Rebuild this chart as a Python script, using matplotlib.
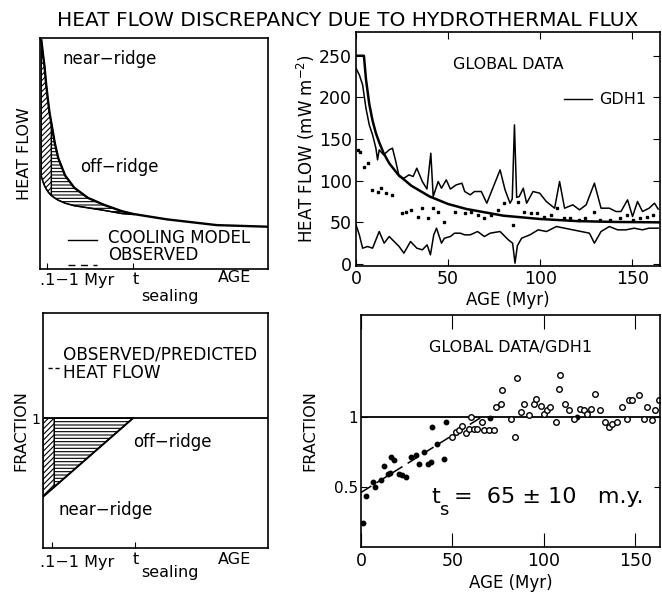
import matplotlib
matplotlib.use("Agg")
import matplotlib.pyplot as plt
import numpy as np

plt.rcParams['font.family'] = ['DejaVu Sans']
plt.rcParams['hatch.linewidth'] = 0.8

W, H = 662, 594

# ---- schematic (top-left): cooling model vs observed, axes fractions
sch_x = [0.006, 0.013, 0.02, 0.027, 0.035, 0.042, 0.05, 0.065, 0.08, 0.11,
         0.15, 0.21, 0.28, 0.36, 0.41]
sch_cool = [0.99, 0.93, 0.875, 0.80, 0.73, 0.675, 0.63, 0.545, 0.48, 0.405,
            0.352, 0.308, 0.278, 0.25, 0.238]
sch_obs = [0.40, 0.378, 0.36, 0.347, 0.335, 0.326, 0.318, 0.307, 0.298, 0.285,
           0.274, 0.265, 0.254, 0.24, 0.236]
tail_x = [0.41, 0.556, 0.775, 1.0]
tail_cool = [0.238, 0.215, 0.19, 0.183]

# ---- schematic (bottom-left): observed / predicted
frac_x = [0.0, 0.05, 0.40]
frac_y = [0.395, 0.47, 1.0]

# ---- global data (top-right)
gdh_age = [0, 4.3, 5.4, 7.2, 9, 10.8, 12.6, 15, 18, 23, 30, 40, 50, 60, 70, 80,
           90, 100, 120, 140, 165]
gdh_hf = [250, 250, 222, 192, 172, 157, 146, 133, 121, 107, 94, 81, 72, 66, 62,
          58, 56, 54, 51.5, 50.5, 50]

up_age = [0, 1.8, 3.6, 5.4, 7.2, 9, 10.8, 11.7, 12.6, 15, 18, 19.8, 21.6, 23.4,
          26, 28.8, 31, 33, 36, 38.5, 40.6, 41.9, 44.6, 46.4, 49, 51.2, 54.4,
          57.5, 59, 62, 64.3, 68, 71, 74.6, 78.2, 80.9, 83.6, 84.8, 86, 87.2,
          88.6, 90.8, 92.6, 96.1, 99.7, 103.3, 107.8, 110.5, 113.2, 117.7,
          121.3, 124.9, 129.4, 133, 137.5, 141.1, 143.8, 147.4, 150.1, 152.8,
          155.5, 159.1, 162, 164]
up_hf = [235, 227, 215, 187, 167, 155, 139, 125, 137, 131, 137, 139, 123, 105,
         103, 107, 105, 115, 99, 90, 133, 81, 99, 91, 101, 90, 95, 97, 87, 83,
         87, 87, 73, 93, 113, 89, 73, 78, 167, 80, 81, 91, 73, 87, 85, 75, 67,
         99, 67, 71, 65, 71, 97, 67, 67, 63, 63, 77, 57, 75, 63, 67, 73, 66]

lo_age = [0, 1.8, 3.6, 6.3, 9, 12.6, 15.3, 18, 20.7, 23.4, 26, 29.6, 33, 36,
          38.6, 40.4, 42.2, 43.7, 46.4, 48, 51.2, 53.5, 56.6, 59, 62, 66,
          69.7, 72.8, 78.2, 82.7, 85, 86.3, 87.6, 89.9, 94.4, 98.9, 103.4,
          108.8, 113.2, 117.7, 122.2, 126.7, 129.4, 133, 137.5, 142, 146.5,
          151, 155.5, 159, 164]
lo_hf = [47, 35, 19, 21, 19, 39, 25, 33, 27, 21, 13, 27, 19, 17, 23, 11, 35, 43,
         25, 31, 33, 37, 37, 35, 35, 39, 33, 37, 39, 29, 25, 1, 22, 31, 35, 41,
         39, 45, 43, 41, 39, 37, 25, 39, 45, 41, 41, 43, 41, 43, 43]

mean_age = [1, 2.3, 4.5, 6.3, 8.6, 11.7, 13.5, 16.2, 19.4, 24.8, 27, 30, 33.8,
            36, 39, 42, 44.6, 48, 53.5, 59, 62.5, 66, 69.7, 73.3, 77, 80.5, 85,
            87.7, 91.3, 95, 98.5, 102, 105.7, 109.3, 112.8, 116.4, 121, 124.5,
            129, 132.6, 138, 143.4, 147, 150.6, 154, 157.8, 161.4]
mean_hf = [137, 135, 117, 121, 89, 87, 91, 85, 83, 61, 63, 65, 57, 67, 55, 67,
           63, 51, 63, 61, 63, 59, 55, 59, 65, 73, 47, 75, 63, 61, 61, 57, 59,
           67, 55, 55, 53, 55, 63, 53, 53, 55, 59, 53, 55, 57, 59]

# ---- global data / GDH1 (bottom-right)
fill_age = [0.9, 2.7, 6.4, 7.6, 10.9, 12.7, 14.5, 15.8, 16.4, 18.2, 20.9, 22.2,
            24.5, 27.3, 30, 31.8, 34.5, 36.4, 38.2, 39, 41.8, 45.5, 46.4, 70.5,
            118]
fill_frac = [0.243, 0.433, 0.536, 0.50, 0.548, 0.648, 0.595, 0.60, 0.714,
             0.69, 0.595, 0.583, 0.571, 0.714, 0.726, 0.667, 0.75, 0.667,
             0.679, 0.929, 0.81, 0.702, 0.964, 0.995, 1.0]
open_age = [50, 51.8, 53.6, 55.5, 57.3, 59, 60, 61.8, 63.6, 66.4, 67.3, 70,
            72.7, 73.6, 76.4, 77.3, 81.8, 84.2, 85.5, 87.3, 89, 91.8, 94.5,
            95.5, 98.2, 100, 101.8, 103.6, 106.4, 108.2, 109, 111.8, 113.6,
            116.4, 120, 121.8, 123.6, 125.5, 128.2, 130.9, 133.6, 135.5, 137.3,
            140, 142.7, 145.5, 146.4, 148.2, 151.8, 154.5, 156.4, 159, 160.9,
            162.7]
open_frac = [0.857, 0.893, 0.905, 0.933, 0.886, 0.917, 1.0, 0.917, 0.917,
             0.964, 0.905, 0.905, 0.905, 1.071, 1.095, 1.195, 0.988, 0.857,
             1.281, 1.036, 1.095, 1.012, 1.095, 1.126, 1.076, 1.024, 1.048,
             1.071, 0.964, 1.202, 1.298, 1.095, 1.048, 0.988, 1.06, 1.048,
             1.024, 1.06, 1.167, 1.048, 0.964, 0.929, 0.952, 0.964, 1.071,
             0.988, 1.119, 1.119, 1.155, 0.988, 1.071, 0.976, 1.048, 1.119]
fit_age = [0.0, 66.0]
fit_frac = [0.46, 1.0]


def box(l, r, t, b):
    return [l / W, (H - b) / H, (r - l) / W, (b - t) / H]


fig = plt.figure(figsize=(W / 100, H / 100), dpi=100)
fig.text(348 / W, 1 - 21 / H, "HEAT FLOW DISCREPANCY DUE TO HYDROTHERMAL FLUX",
         ha="center", va="center", fontsize=14.5)

# ================= top-left schematic
ax1 = fig.add_axes(box(40, 268, 38, 269))
ax1.set_xlim(0, 1)
ax1.set_ylim(0, 1)
ax1.plot(sch_x + tail_x[1:], sch_cool + tail_cool[1:], color="k", lw=1.7)
ax1.plot(sch_x, sch_obs, color="k", lw=1.1)
ax1.fill_between(sch_x[:7], sch_obs[:7], sch_cool[:7], facecolor="none",
                 edgecolor="k", hatch="//////", lw=0.9)
ax1.fill_between(sch_x[6:], sch_obs[6:], sch_cool[6:], facecolor="none",
                 edgecolor="k", hatch="-----", lw=0.9)
ax1.text(0.10, 0.91, "near\u2212ridge", fontsize=12, va="center")
ax1.text(0.175, 0.44, "off\u2212ridge", fontsize=12, va="center")
ax1.plot([0.123, 0.25], [0.126, 0.126], color="k", lw=1.0)
ax1.plot([0.123, 0.25], [0.017, 0.017], color="k", lw=1.0, dashes=(5, 4))
ax1.text(0.30, 0.136, "COOLING MODEL", fontsize=12, va="center")
ax1.text(0.30, 0.062, "OBSERVED", fontsize=12, va="center")
ax1.set_yticks([])
ax1.set_xticks([0.03, 0.41])
ax1.tick_params(axis="x", direction="in", length=4, labelbottom=False)
ax1.set_ylabel("HEAT FLOW", fontsize=11.5, labelpad=6)

# ================= top-right global data
ax2 = fig.add_axes(box(356, 660, 32, 266))
ax2.plot(up_age, up_hf, color="k", lw=1.1)
ax2.plot(lo_age, lo_hf, color="k", lw=1.1)
ax2.plot(gdh_age, gdh_hf, color="k", lw=1.8)
ax2.plot(mean_age, mean_hf, ls="none", marker="s", ms=1.8, color="k")
ax2.set_xlim(0, 165)
ax2.set_ylim(-2.4, 278.5)
ax2.set_xticks([0, 50, 100, 150])
ax2.set_yticks([0, 50, 100, 150, 200, 250])
ax2.tick_params(direction="in", length=5, top=True, right=True, labelsize=12.5,
                pad=3)
ax2.text(0.5, 0.86, "GLOBAL DATA", transform=ax2.transAxes, ha="center",
         va="center", fontsize=11.5)
ax2.plot([113, 128], [198, 198], color="k", lw=1.0)
ax2.text(0.80, 0.712, "GDH1", transform=ax2.transAxes, va="center",
         fontsize=11.5)
ax2.set_xlabel("AGE (Myr)", fontsize=12, labelpad=2)
ax2.set_ylabel(r"HEAT FLOW (mW m$^{-2}$)", fontsize=12, labelpad=1)

# ================= bottom-left schematic
ax3 = fig.add_axes(box(43, 268, 313, 548))
ax3.set_xlim(0, 1)
ax3.set_ylim(0, 1.81)
ax3.axhline(1.0, color="k", lw=1.3)
ax3.plot(frac_x, frac_y, color="k", lw=1.4)
ax3.fill_between(frac_x[:2], frac_y[:2], [1.0, 1.0], facecolor="none",
                 edgecolor="k", hatch="//////", lw=0.8)
ax3.fill_between(frac_x[1:], frac_y[1:], [1.0, 1.0], facecolor="none",
                 edgecolor="k", hatch="-----", lw=0.8)
ax3.plot([0.02, 0.085], [1.385, 1.385], color="k", lw=1.0, dashes=(3, 2))
ax3.text(0.09, 1.49, "OBSERVED/PREDICTED", fontsize=12.2, va="center")
ax3.text(0.09, 1.345, "HEAT FLOW", fontsize=12.2, va="center")
ax3.text(0.40, 0.82, "off\u2212ridge", fontsize=12, va="center")
ax3.text(0.07, 0.29, "near\u2212ridge", fontsize=12, va="center")
ax3.set_yticks([1.0])
ax3.set_yticklabels(["1"])
ax3.tick_params(axis="y", direction="in", length=0, labelsize=10, pad=2)
ax3.set_xticks([0.04, 0.41])
ax3.tick_params(axis="x", direction="in", length=4, labelbottom=False)
ax3.set_ylabel("FRACTION", fontsize=11.5, labelpad=2)

# shared schematic x labels
for ax, yb, ys in [(ax1, 281, 297), (ax3, 562, 573)]:
    fig.text(40 / W, 1 - yb / H, ".1\u22121 Myr", fontsize=11.5, va="center")
    fig.text(133 / W, 1 - (yb - 2) / H, "t", fontsize=11.5, va="center")
    fig.text(141 / W, 1 - ys / H, "sealing", fontsize=11.5, va="center")
    fig.text(218 / W, 1 - (yb - 3) / H, "AGE", fontsize=11.5, va="center")

# ================= bottom-right ratio
ax4 = fig.add_axes(box(361, 660, 315, 547))
ax4.axhline(1.0, color="k", lw=1.3)
ax4.plot(fit_age, fit_frac, color="k", lw=1.1, dashes=(8, 4))
ax4.plot(fill_age, fill_frac, ls="none", marker="o", ms=3.2, color="k")
ax4.plot(open_age, open_frac, ls="none", marker="o", ms=4, mfc="white",
         mec="k", mew=1.0)
ax4.set_xlim(0, 163.5)
ax4.set_ylim(0.07, 1.73)
ax4.set_xticks([0, 50, 100, 150])
ax4.set_yticks([0.5, 1.0])
ax4.set_yticklabels(["0.5", "1"])
ax4.tick_params(axis="x", direction="in", length=10, top=True, labelsize=12.5)
ax4.tick_params(axis="y", direction="in", length=4, right=True, labelsize=11,
                pad=2)
ax4.text(0.5, 0.86, "GLOBAL DATA/GDH1", transform=ax4.transAxes, ha="center",
         va="center", fontsize=11.5)
ax4.text(0.235, 0.215, "t", transform=ax4.transAxes, fontsize=16, va="center")
ax4.text(0.262, 0.16, "s", transform=ax4.transAxes, fontsize=13, va="center")
ax4.text(0.31, 0.215, "=  65 \u00b1 10   m.y.", transform=ax4.transAxes,
         fontsize=16, va="center")
ax4.set_xlabel("AGE (Myr)", fontsize=12, labelpad=3)
ax4.set_ylabel("FRACTION", fontsize=11.5, labelpad=12)

for ax in (ax1, ax2, ax3, ax4):
    for s in ax.spines.values():
        s.set_linewidth(1.2)

fig.savefig("out.png", dpi=100)
